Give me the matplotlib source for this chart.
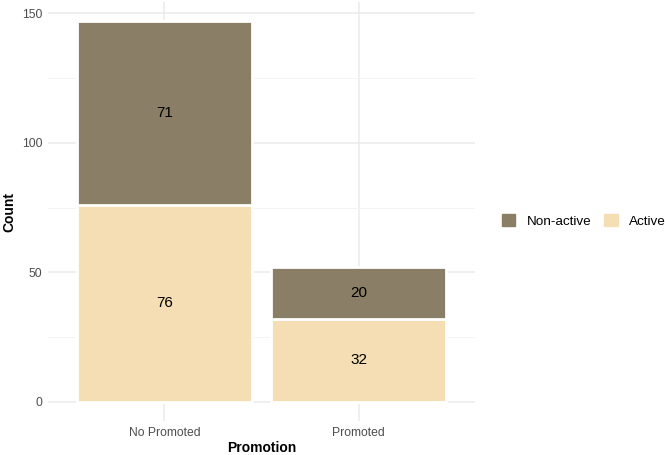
import matplotlib.pyplot as plt
import numpy as np

plt.rcParams["font.family"] = ["Liberation Sans", "DejaVu Sans"]

# counts by promotion status
categories = ["No Promoted", "Promoted"]
active = [76, 32]
non_active = [71, 20]

colors = {"Active": "#F5DEB3", "Non-active": "#8B7E66"}

fig = plt.figure(figsize=(6.65, 4.55), dpi=100)
ax = fig.add_axes([48 / 665, 34 / 455, 427 / 665, 419 / 455])

x = np.arange(len(categories))
ax.bar(x, active, width=0.9, color=colors["Active"], edgecolor="white", linewidth=2, zorder=3)
ax.bar(x, non_active, width=0.9, bottom=active, color=colors["Non-active"],
       edgecolor="white", linewidth=2, zorder=3)

for i in range(len(categories)):
    ax.text(x[i], active[i] / 2, str(active[i]), ha="center", va="center", fontsize=11, zorder=4)
    ax.text(x[i], active[i] + non_active[i] / 2, str(non_active[i]),
            ha="center", va="center", fontsize=11, zorder=4)

total = max(a + n for a, n in zip(active, non_active))
ax.set_xlim(-0.6, len(categories) - 0.4)
ax.set_ylim(-0.05 * total, total * 1.05)

ax.set_yticks([0, 50, 100, 150])
ax.set_yticks([25, 75, 125], minor=True)
ax.set_xticks(x)
ax.set_xticklabels(categories)

ax.grid(True, which="major", color="#EBEBEB", linewidth=1.1, zorder=0)
ax.grid(True, which="minor", axis="y", color="#F3F3F3", linewidth=0.6, zorder=0)
ax.tick_params(which="both", length=0, labelsize=8.7, labelcolor="#4D4D4D", pad=4)
for s in ax.spines.values():
    s.set_visible(False)

ax.set_xlabel("Promotion", fontsize=10, fontweight="bold", labelpad=2)
ax.set_ylabel("Count", fontsize=10, fontweight="bold", labelpad=4)

# legend to the right of the panel
handles = [plt.Rectangle((0, 0), 1, 1, color=colors["Non-active"]),
           plt.Rectangle((0, 0), 1, 1, color=colors["Active"])]
fig.legend(handles, ["Non-active", "Active"], loc="center left",
           bbox_to_anchor=(502 / 665, 1 - 221 / 455), ncol=2, frameon=False,
           fontsize=9.7, handlelength=1.0, handleheight=1.0, columnspacing=0.95,
           handletextpad=0.85, borderpad=0, borderaxespad=0)

fig.savefig("out.png", dpi=100)
